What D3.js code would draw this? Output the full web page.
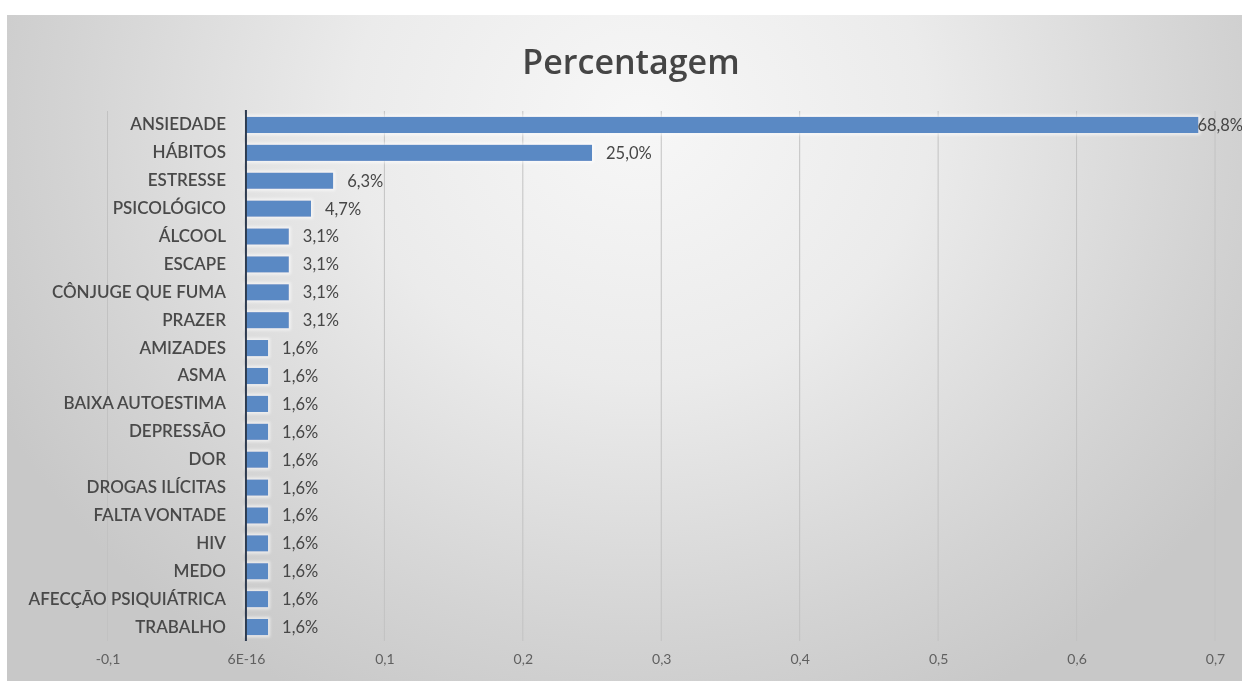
<!DOCTYPE html>
<html>
<head>
<meta charset="utf-8">
<script src="https://cdn.jsdelivr.net/npm/d3@7"></script>
<style>
  html, body { margin: 0; padding: 0; background: #ffffff; }
  svg { display: block; }
</style>
</head>
<body>
<svg id="chart" width="1242" height="684"></svg>
<script>
// Reasons given, in percent
const categories = [
  "ANSIEDADE", "HÁBITOS", "ESTRESSE", "PSICOLÓGICO", "ÁLCOOL", "ESCAPE",
  "CÔNJUGE QUE FUMA", "PRAZER", "AMIZADES", "ASMA", "BAIXA AUTOESTIMA",
  "DEPRESSÃO", "DOR", "DROGAS ILÍCITAS", "FALTA VONTADE", "HIV", "MEDO",
  "AFECÇÃO PSIQUIÁTRICA", "TRABALHO"
];
const percentages = [68.8, 25.0, 6.3, 4.7, 3.1, 3.1, 3.1, 3.1, 1.6, 1.6, 1.6,
                     1.6, 1.6, 1.6, 1.6, 1.6, 1.6, 1.6, 1.6];
const tickValues = [-0.1, 0, 0.1, 0.2, 0.3, 0.4, 0.5, 0.6, 0.7];
const tickLabels = ["-0,1", "6E-16", "0,1", "0,2", "0,3", "0,4", "0,5", "0,6", "0,7"];
const title = "Percentagem";

const W = 1242, H = 684;
const svg = d3.select("#chart");
const defs = svg.append("defs");

// soft grey backdrop, lighter towards the top centre
const grad = defs.append("radialGradient")
  .attr("id", "bg").attr("gradientUnits", "userSpaceOnUse")
  .attr("cx", 640).attr("cy", 120).attr("r", 720)
  .attr("gradientTransform", "translate(640,120) scale(1,0.9) translate(-640,-120)");
grad.append("stop").attr("offset", "0%").attr("stop-color", "#f7f7f7");
grad.append("stop").attr("offset", "40%").attr("stop-color", "#ebebeb");
grad.append("stop").attr("offset", "80%").attr("stop-color", "#d3d3d3");
grad.append("stop").attr("offset", "100%").attr("stop-color", "#c8c8c8");

const soft = defs.append("filter").attr("id", "soft")
  .attr("x", "-5%").attr("y", "-5%").attr("width", "110%").attr("height", "110%");
soft.append("feGaussianBlur").attr("stdDeviation", 0.6);

const glow = defs.append("filter").attr("id", "glow")
  .attr("x", "-2%").attr("y", "-50%").attr("width", "104%").attr("height", "200%");
glow.append("feMorphology").attr("in", "SourceAlpha").attr("operator", "dilate")
  .attr("radius", 1.5).attr("result", "d");
glow.append("feGaussianBlur").attr("in", "d").attr("stdDeviation", 1.5).attr("result", "b");
glow.append("feFlood").attr("flood-color", "#ffffff").attr("flood-opacity", 0.6);
glow.append("feComposite").attr("in2", "b").attr("operator", "in").attr("result", "g");
const gm = glow.append("feMerge");
gm.append("feMergeNode").attr("in", "g");
gm.append("feMergeNode").attr("in", "SourceGraphic");

svg.append("rect").attr("x", 7).attr("y", 15).attr("width", W - 7).attr("height", H - 18)
  .attr("fill", "url(#bg)");

const root = svg.append("g").attr("filter", "url(#soft)");

const x = d3.scaleLinear().domain([-0.1, 0.7]).range([107.5, 1215]);
const y = d3.scaleBand().domain(categories).range([111, 641]).paddingInner(0.42).paddingOuter(0.21);

// title
root.append("text")
  .attr("x", 631).attr("y", 74)
  .attr("text-anchor", "middle")
  .attr("font-family", "'Open Sans', Lato, sans-serif")
  .attr("font-size", 34).attr("font-weight", 600)
  .attr("fill", "#454545")
  .text(title);

// vertical gridlines
root.append("g").selectAll("line")
  .data(tickValues.filter(v => v !== 0))
  .join("line")
  .attr("x1", d => x(d)).attr("x2", d => x(d))
  .attr("y1", 111).attr("y2", 641)
  .attr("stroke", "#c2c2c2").attr("stroke-width", 1);

// x axis tick labels
const xAxis = d3.axisBottom(x).tickValues(tickValues)
  .tickSize(0).tickPadding(0)
  .tickFormat((d, i) => tickLabels[i]);
const ax = root.append("g").attr("transform", "translate(0,654)").call(xAxis);
ax.select(".domain").remove();
ax.selectAll("text")
  .attr("font-family", "Lato, 'Open Sans', sans-serif")
  .attr("font-size", 14).attr("fill", "#606060");

// bars
root.append("g").attr("filter", "url(#glow)").selectAll("rect")
  .data(categories)
  .join("rect")
  .attr("x", x(0))
  .attr("y", d => y(d))
  .attr("width", (d, i) => x(percentages[i] / 100) - x(0))
  .attr("height", y.bandwidth())
  .attr("fill", "#5a89c4");

// category axis
const yAxis = d3.axisLeft(y).tickSize(0).tickPadding(20);
const ay = root.append("g").attr("transform", `translate(${x(0)},0)`).call(yAxis);
ay.select(".domain").remove();
ay.selectAll("text")
  .attr("font-family", "Lato, 'Open Sans', sans-serif")
  .attr("font-size", 17).attr("font-weight", 600)
  .attr("fill", "#4a4a4a");

root.append("line")
  .attr("x1", x(0)).attr("x2", x(0))
  .attr("y1", 110).attr("y2", 641)
  .attr("stroke", "#2d3a4f").attr("stroke-width", 2);

// value labels; the widest bar keeps its label tucked against its end
const fmt = v => v.toFixed(1).replace(".", ",") + "%";
root.append("g").selectAll("text")
  .data(categories)
  .join("text")
  .attr("x", (d, i) => {
    const end = x(percentages[i] / 100);
    return end > W - 60 ? end - 1 : end + 14;
  })
  .attr("y", d => y(d) + y.bandwidth() / 2)
  .attr("dy", "0.36em")
  .attr("font-family", "Lato, 'Open Sans', sans-serif")
  .attr("font-size", 16.5)
  .attr("fill", "#464646")
  .text((d, i) => fmt(percentages[i]));
</script>
</body>
</html>
